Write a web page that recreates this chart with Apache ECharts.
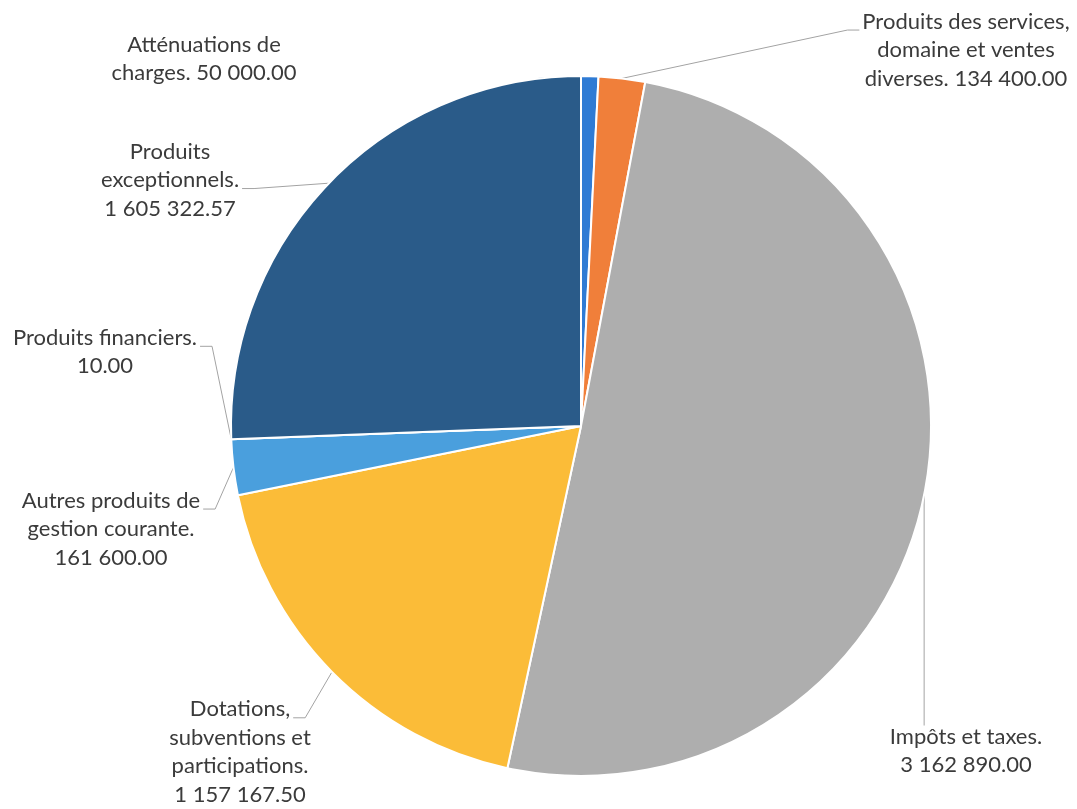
<!DOCTYPE html>
<html>
<head>
<meta charset="utf-8">
<script src="https://cdn.jsdelivr.net/npm/echarts@6/dist/echarts.min.js"></script>
<style>
  html, body { margin: 0; padding: 0; background: #fff; }
  #container { width: 1077px; height: 809px; }
</style>
</head>
<body>
<div id="container"></div>
<script>
var categories = [
    'Atténuations de charges',
    'Produits des services, domaine et ventes diverses',
    'Impôts et taxes',
    'Dotations, subventions et participations',
    'Autres produits de gestion courante',
    'Produits financiers',
    'Produits exceptionnels'
];
var values = [50000.00, 134400.00, 3162890.00, 1157167.50, 161600.00, 10.00, 1605322.57];
// label text as it is wrapped in the picture
var labelNames = [
    'Atténuations de\ncharges.',
    'Produits des services,\ndomaine et ventes\ndiverses.',
    'Impôts et taxes.\n',
    'Dotations,\nsubventions et\nparticipations.\n',
    'Autres produits de\ngestion courante.\n',
    'Produits financiers.\n',
    'Produits\nexceptionnels.\n'
];
var colors = ['#2f7bd4', '#f07f3a', '#aeaeae', '#fbbc38', '#4a9fdd', '#6aa84f', '#2a5b89'];

// label centres and where the leader line meets the text
var labelPos = [
    [204, 59], [966, 50], [966, 751], [240, 752], [111, 529], [105, 352], [170, 180]
];
var lineAnchor = [null, ['left', 0], ['top', 0], ['right', 0], ['right', 0], ['right', 0], ['right', 1]];
var FONT_SIZE = 22, LINE_H = 28.5, FONT = 'Lato';

var measure = document.createElement('canvas').getContext('2d');
measure.font = FONT_SIZE + 'px ' + FONT;

function fmt(v) {
    var s = v.toFixed(2).split('.');
    return s[0].replace(/\B(?=(\d{3})+(?!\d))/g, ' ') + '.' + s[1];
}
function labelText(i) {
    var n = labelNames[i];
    var sep = n.charAt(n.length - 1) === '\n' ? '' : ' ';
    return n + sep + fmt(values[i]);
}

var dom = document.getElementById('container');
var myChart = echarts.init(dom);
var option = {
    animation: false,
    color: colors,
    series: [
        {
            type: 'pie',
            center: [581, 426],
            radius: 350,
            startAngle: 90,
            clockwise: true,
            avoidLabelOverlap: false,
            itemStyle: {
                borderColor: '#ffffff',
                borderWidth: 2
            },
            label: {
                show: true,
                position: 'outside',
                fontFamily: FONT,
                fontSize: FONT_SIZE,
                lineHeight: LINE_H,
                color: '#3b3b3b',
                align: 'center',
                formatter: function (p) {
                    return labelText(p.dataIndex);
                }
            },
            labelLine: {
                show: true,
                length: 20,
                length2: 10,
                lineStyle: { color: '#a3a3a3', width: 1 }
            },
            labelLayout: function (params) {
                var i = params.dataIndex;
                var p = labelPos[i];
                var res = { x: p[0], y: p[1], align: 'center', verticalAlign: 'middle' };
                var a = lineAnchor[i];
                var pts = params.labelLinePoints;
                if (a && pts) {
                    var lines = labelText(i).split('\n');
                    var top = p[1] - lines.length * LINE_H / 2;
                    var p0 = pts[0];
                    var ex, ey, elbow;
                    if (a[0] === 'top') {
                        ex = p0[0];
                        ey = top + 3;
                        elbow = [ex, ey];
                    } else {
                        var w = measure.measureText(lines[a[1]]).width;
                        // leader ends near the baseline of the chosen line
                        ey = top + LINE_H * (a[1] + 0.8);
                        if (a[0] === 'right') {
                            ex = p[0] + w / 2 + 3;
                            elbow = [ex + 12, ey];
                        } else {
                            ex = p[0] - w / 2 - 3;
                            elbow = [ex - 12, ey];
                        }
                    }
                    res.labelLinePoints = [[p0[0], p0[1]], elbow, [ex, ey]];
                }
                return res;
            },
            data: categories.map(function (c, i) {
                var d = { name: c, value: values[i] };
                if (i === 0) {
                    d.labelLine = { show: false };
                }
                return d;
            })
        }
    ]
};
myChart.setOption(option, true);
</script>
</body>
</html>
